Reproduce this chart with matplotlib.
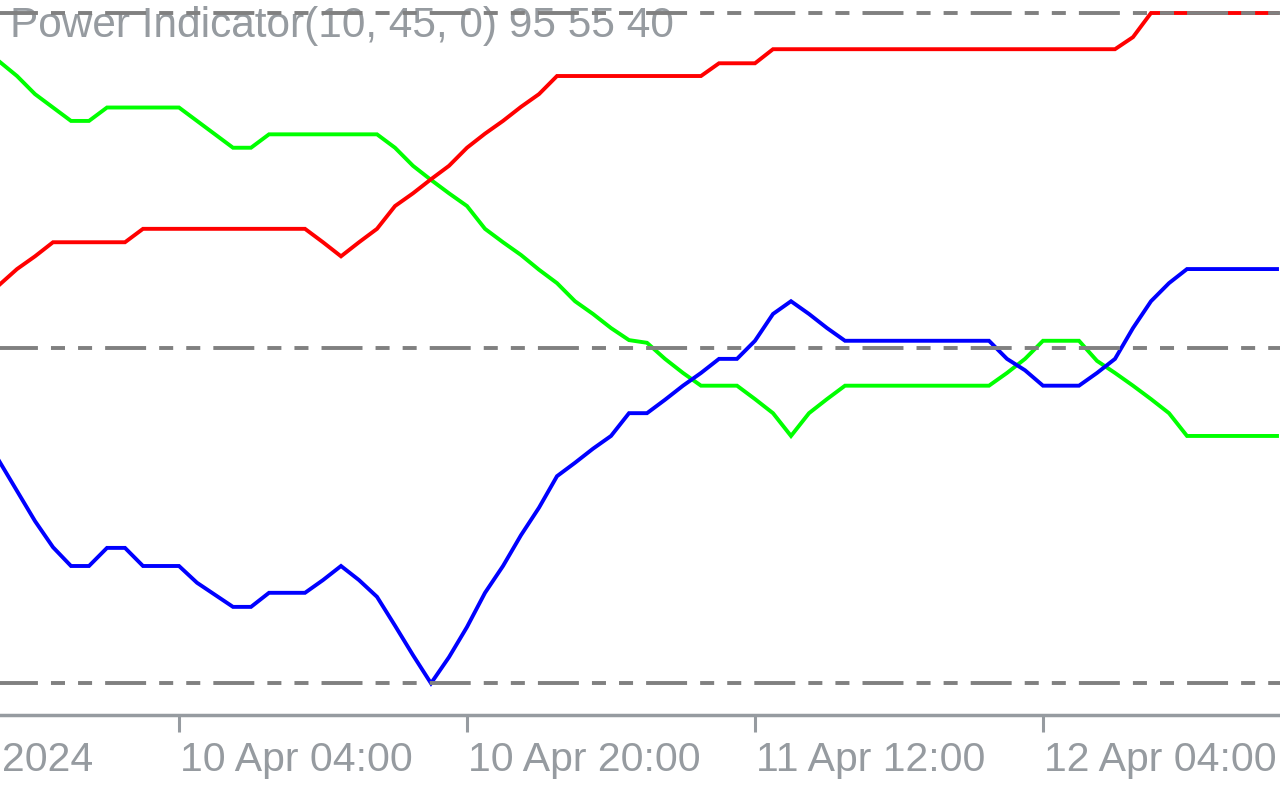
import matplotlib
matplotlib.use('Agg')
import matplotlib.pyplot as plt
import matplotlib.transforms as mtransforms
import numpy as np

plt.rcParams['font.family'] = ['Liberation Sans', 'DejaVu Sans']
plt.rcParams['lines.scale_dashes'] = False

# H1 bars, first visible bar = 9 Apr 2024 18:00
red = [59.4, 61.8, 63.7, 65.8, 65.8, 65.8, 65.8, 65.8, 67.8, 67.8,
       67.8, 67.8, 67.8, 67.8, 67.8, 67.8, 67.8, 67.8, 65.8, 63.7,
       65.8, 67.8, 71.2, 73.1, 75.2, 77.2, 79.9, 82.0, 83.9, 86.0,
       87.9, 90.6, 90.6, 90.6, 90.6, 90.6, 90.6, 90.6, 90.6, 90.6,
       92.5, 92.5, 92.5, 94.6, 94.6, 94.6, 94.6, 94.6, 94.6, 94.6,
       94.6, 94.6, 94.6, 94.6, 94.6, 94.6, 94.6, 94.6, 94.6, 94.6,
       94.6, 94.6, 94.6, 96.4, 100.0, 100.0, 100.0, 100.0, 100.0, 100.0,
       100.0, 100.0]
green = [92.8, 90.6, 87.9, 85.9, 83.9, 83.9, 85.9, 85.9, 85.9, 85.9,
         85.9, 83.9, 81.9, 79.9, 79.9, 81.9, 81.9, 81.9, 81.9, 81.9,
         81.9, 81.9, 79.9, 77.2, 75.1, 73.1, 71.2, 67.8, 65.8, 63.9,
         61.7, 59.7, 57.0, 55.1, 53.0, 51.2, 50.8, 48.4, 46.3, 44.4,
         44.4, 44.4, 42.4, 40.3, 36.9, 40.3, 42.4, 44.4, 44.4, 44.4,
         44.4, 44.4, 44.4, 44.4, 44.4, 44.4, 46.3, 48.4, 51.1, 51.1,
         51.1, 48.1, 46.3, 44.4, 42.4, 40.3, 36.9, 36.9, 36.9, 36.9,
         36.9, 36.9]
blue = [33.2, 28.7, 24.2, 20.3, 17.5, 17.5, 20.2, 20.2, 17.5, 17.5,
        17.5, 15.0, 13.2, 11.4, 11.4, 13.5, 13.5, 13.5, 15.4, 17.5,
        15.4, 12.9, 8.6, 4.2, 0.0, 3.9, 8.4, 13.5, 17.5, 22.1,
        26.2, 30.9, 32.9, 35.0, 36.9, 40.3, 40.3, 42.3, 44.4, 46.3,
        48.4, 48.4, 51.1, 55.1, 57.0, 55.1, 53.0, 51.1, 51.1, 51.1,
        51.1, 51.1, 51.1, 51.1, 51.1, 51.1, 48.4, 46.7, 44.4, 44.4,
        44.4, 46.3, 48.4, 53.0, 57.0, 59.7, 61.8, 61.8, 61.8, 61.8,
        61.8, 61.8]
levels = [100, 50, 0]
tick_bars = [10, 26, 42, 58]
tick_labels = ['10 Apr 04:00', '10 Apr 20:00', '11 Apr 12:00', '12 Apr 04:00']
first_label = '2024'   # tail of "9 Apr 2024", the rest is off screen
title = 'Power Indicator(10, 45, 0) 95 55 40'

GRAY = '#969ba0'
DASH = '#808080'

fig = plt.figure(figsize=(12.8, 8), dpi=100)
fig.patch.set_facecolor('white')
ax = fig.add_axes([0, 85 / 800, 1, 715 / 800])
ax.set_facecolor('white')

x = np.arange(len(red))
for ys, c in [(green, '#00ff00'), (blue, '#0000ff'), (red, '#ff0000')]:
    ax.plot(x, ys, color=c, lw=2.8, solid_joinstyle='miter', zorder=2)

# dashed level lines drawn above the buffers
pattern = (29.5, 9.4, 10.1, 9.4, 10.1, 9.4)
for lv in levels:
    ax.axhline(lv, color=DASH, lw=2.8, linestyle=(2.2, pattern), zorder=5)

ax.set_xlim(1 / 18, 1281 / 18)
ax.set_ylim(-4.73, 101.94)

ax.set_yticks([])
ax.set_xticks(tick_bars)
ax.tick_params(axis='x', direction='out', length=12.5, width=2.2,
               color=GRAY, labelbottom=False)
for s in ['top', 'left', 'right']:
    ax.spines[s].set_visible(False)
ax.spines['bottom'].set_color(GRAY)
ax.spines['bottom'].set_linewidth(2.5)

trans = mtransforms.blended_transform_factory(ax.transData, fig.transFigure)
trans = mtransforms.offset_copy(trans, fig=fig, x=1, units='dots')
for b, lab in zip(tick_bars, tick_labels):
    ax.text(b, 29 / 800, lab, transform=trans, ha='left', va='baseline',
            fontsize=29.5, color=GRAY, clip_on=False)
ax.text(2 / 1280, 29 / 800, first_label, transform=fig.transFigure,
        ha='left', va='baseline', fontsize=29.5, color=GRAY, clip_on=False)

ax.text(10 / 1280, 1 - 37 / 800, title, transform=fig.transFigure,
        ha='left', va='baseline', fontsize=30.5, color=GRAY, zorder=1,
        clip_on=False)

fig.savefig('out.png', dpi=100, facecolor='white')
